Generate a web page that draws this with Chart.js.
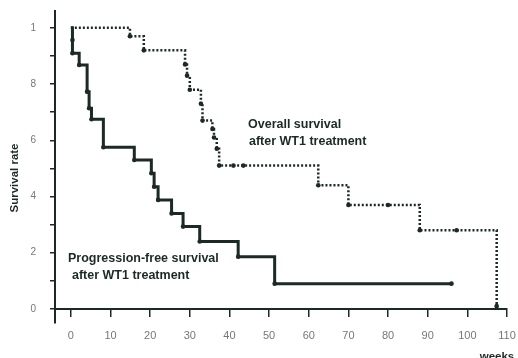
<!DOCTYPE html>
<html>
<head>
<meta charset="utf-8">
<script src="https://cdn.jsdelivr.net/npm/chart.js@4/dist/chart.umd.min.js"></script>
<style>
  html, body { margin: 0; padding: 0; background: #fff; }
  #wrap { width: 518px; height: 358px; }
</style>
</head>
<body>
<div id="wrap"><canvas id="km-chart" width="518" height="358"></canvas></div>
<script>
// Kaplan-Meier steps (weeks, survival fraction)
const overallWeeks = [0, 14.9, 18.4, 28.8, 29.3, 30.0, 32.8, 33.2, 35.7, 36.1, 36.8, 37.4, 41.0, 43.5, 62.4, 70.0, 80.0, 88.0, 97.3, 107.4];
const overallRate  = [1.0, 0.97, 0.92, 0.87, 0.83, 0.78, 0.73, 0.67, 0.64, 0.61, 0.57, 0.51, 0.51, 0.51, 0.44, 0.37, 0.37, 0.28, 0.28, 0.01];

const pfsWeeks = [0, 0.4, 0.4, 2.1, 4.1, 4.6, 5.2, 8.2, 16.0, 20.3, 21.0, 22.0, 25.4, 28.3, 32.5, 42.2, 51.4, 96.0];
const pfsRate  = [1.0, 0.957, 0.91, 0.868, 0.773, 0.714, 0.675, 0.575, 0.53, 0.483, 0.435, 0.388, 0.34, 0.293, 0.24, 0.186, 0.09, 0.09];

const xTickValues = [0, 10, 20, 30, 40, 50, 60, 70, 80, 90, 100, 110];
const yTickValues = [0, 0.1, 0.2, 0.3, 0.4, 0.5, 0.6, 0.7, 0.8, 0.9, 1.0];
const yTickLabels = ['0', '', '2', '', '4', '', '6', '', '8', '', '1'];

const ink = '#1c2a24';
const tickText = '#777';

// free text on the figure: curve labels and axis titles
const textPlugin = {
    id: 'figureText',
    afterDraw(chart) {
        const c = chart.ctx;
        c.save();
        c.fillStyle = ink;
        c.textBaseline = 'middle';
        c.textAlign = 'left';
        c.font = 'bold 12.5px "Liberation Sans", Arial, sans-serif';
        c.fillText('Overall survival', 248, 125);
        c.fillText('after WT1 treatment', 249, 142);
        c.fillText('Progression-free survival', 68, 259);
        c.fillText('after WT1 treatment', 72, 276);

        c.font = 'bold 11.5px "Liberation Sans", Arial, sans-serif';
        c.textAlign = 'center';
        c.fillText('weeks', 497, 357);

        c.translate(15, 178);
        c.rotate(-Math.PI / 2);
        c.fillText('Survival rate', 0, 0);
        c.restore();
    }
};

const ctx = document.getElementById('km-chart').getContext('2d');
const kmChart = new Chart(ctx, {
    type: 'line',
    data: {
        datasets: [{
            label: 'Overall survival after WT1 treatment',
            data: overallWeeks.map((w, i) => ({ x: w, y: overallRate[i] })),
            stepped: true,
            borderColor: ink,
            borderWidth: 2.5,
            borderDash: [2, 2],
            pointRadius: c => c.dataIndex === 0 ? 0 : 2.3,
            pointBackgroundColor: ink,
            pointBorderWidth: 0,
            fill: false
        }, {
            label: 'Progression-free survival after WT1 treatment',
            data: pfsWeeks.map((w, i) => ({ x: w, y: pfsRate[i] })),
            stepped: true,
            borderColor: ink,
            borderWidth: 3,
            pointRadius: c => c.dataIndex === 0 ? 0 : 2.3,
            pointBackgroundColor: ink,
            pointBorderWidth: 0,
            fill: false
        }]
    },
    options: {
        responsive: false,
        animation: false,
        layout: { padding: { top: 11, right: 11, left: 0, bottom: 35 } },
        plugins: {
            legend: { display: false },
            tooltip: { enabled: false }
        },
        scales: {
            x: {
                type: 'linear',
                min: -4,
                max: 110,
                position: { y: 0 },
                border: { color: ink, width: 2 },
                grid: { drawOnChartArea: false, tickLength: 7, color: ink, lineWidth: 1.5 },
                ticks: { color: tickText, padding: 13, font: { size: 11, family: 'Arial, "Liberation Sans", sans-serif' } },
                afterBuildTicks: s => { s.ticks = xTickValues.map(v => ({ value: v })); },
                afterFit: s => { s.height = 35; s.paddingLeft = 0; s.paddingRight = 0; }
            },
            y: {
                min: -0.05,
                max: 1.06,
                border: { color: ink, width: 2 },
                grid: { drawOnChartArea: false, tickLength: 5, color: ink, lineWidth: 1.5 },
                ticks: {
                    color: tickText,
                    padding: 14,
                    font: { size: 10, family: 'Arial, "Liberation Sans", sans-serif' },
                    callback: (v, i) => yTickLabels[i]
                },
                afterBuildTicks: s => { s.ticks = yTickValues.map(v => ({ value: v })); },
                afterFit: s => { s.width = 55; s.paddingTop = 0; s.paddingBottom = 0; }
            }
        }
    },
    plugins: [textPlugin]
});
</script>
</body>
</html>
